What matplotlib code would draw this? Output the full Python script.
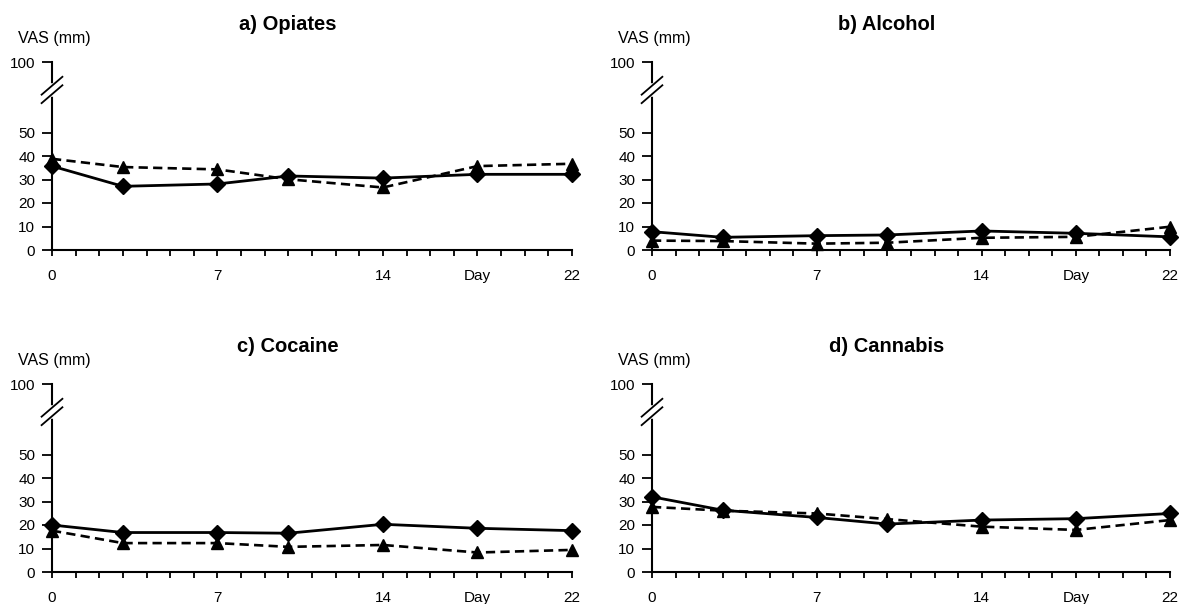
import numpy as np
import matplotlib.pyplot as plt
import matplotlib.transforms as mtransforms

plt.rcParams['font.family'] = ['Liberation Sans', 'DejaVu Sans']

days = [0, 3, 7, 10, 14, 18, 22]
titles = ['a) Opiates', 'b) Alcohol', 'c) Cocaine', 'd) Cannabis']

# solid line, diamonds
solid = {
    'a) Opiates': [35.7, 27.1, 28.1, 31.5, 30.6, 32.2, 32.2],
    'b) Alcohol': [7.8, 5.4, 6.1, 6.4, 8.1, 7.1, 5.6],
    'c) Cocaine': [20.0, 16.8, 16.8, 16.5, 20.3, 18.6, 17.6],
    'd) Cannabis': [32.0, 26.3, 23.2, 20.4, 22.1, 22.7, 24.9],
}
# dashed line, triangles
dashed = {
    'a) Opiates': [38.8, 35.3, 34.3, 30.1, 26.6, 35.7, 36.7],
    'b) Alcohol': [4.0, 3.8, 2.7, 3.1, 5.2, 5.6, 9.9],
    'c) Cocaine': [17.6, 12.3, 12.3, 10.7, 11.5, 8.3, 9.4],
    'd) Cannabis': [27.7, 26.1, 24.9, 22.5, 19.3, 17.9, 22.1],
}

ytick_vals = [0, 10, 20, 30, 40, 50, 80]   # 80 is where "100" sits after the break
ytick_labels = ['0', '10', '20', '30', '40', '50', '100']
xlabel_pos = [0, 7, 14, 18, 22]
xlabel_txt = ['0', '7', '14', 'Day', '22']

W, H = 1179, 604
fig = plt.figure(figsize=(W / 100, H / 100), dpi=100)

# pixel boxes: left, y of zero, right, y of 100
boxes = [(52, 250, 572, 62), (652, 250, 1170, 62),
         (52, 572, 572, 384), (652, 572, 1170, 384)]

for name, (x0, yb, x1, yt) in zip(titles, boxes):
    ax = fig.add_axes([x0 / W, 1 - yb / H, (x1 - x0) / W, (yb - yt) / H])
    ax.plot(days, dashed[name], color='black', lw=1.9, ls=(0, (3.5, 2)),
            marker='^', ms=9, clip_on=False, zorder=3)
    ax.plot(days, solid[name], color='black', lw=2.0, ls='-',
            marker='D', ms=8.5, clip_on=False, zorder=4)
    ax.set_xlim(0, 22)
    ax.set_ylim(0, 80)
    for s in ['top', 'right']:
        ax.spines[s].set_visible(False)
    for s in ['left', 'bottom']:
        ax.spines[s].set_linewidth(1.5)
    ax.set_yticks(ytick_vals)
    ax.set_yticklabels(ytick_labels, fontsize=11)
    ax.set_xticks(range(23), minor=True)
    ax.set_xticks(xlabel_pos)
    ax.set_xticklabels(xlabel_txt, fontsize=11)
    ax.tick_params(axis='y', direction='out', length=7, width=1.3, pad=5)
    ax.tick_params(axis='x', which='both', direction='out', length=4,
                   width=1.3, pad=10)

    # break on the y axis
    tr = mtransforms.blended_transform_factory(ax.transAxes, ax.transData)
    ax.plot([0, 0], [66.5, 70], color='white', lw=4, transform=tr,
            clip_on=False, zorder=5)
    for dy in (66.3, 69.9):
        ax.plot([-0.02, 0.02], [dy - 3.8, dy + 3.8], color='black', lw=1.3,
                transform=tr, clip_on=False, zorder=6)

    cx = (x0 + x1) / 2 - 24
    fig.text(cx / W, 1 - (yt - 37) / H, name, ha='center', va='center',
             fontsize=14.5, fontweight='bold')
    fig.text((x0 - 34) / W, 1 - (yt - 24) / H, 'VAS (mm)', ha='left',
             va='center', fontsize=11.5)

fig.savefig('out.png', dpi=100)
